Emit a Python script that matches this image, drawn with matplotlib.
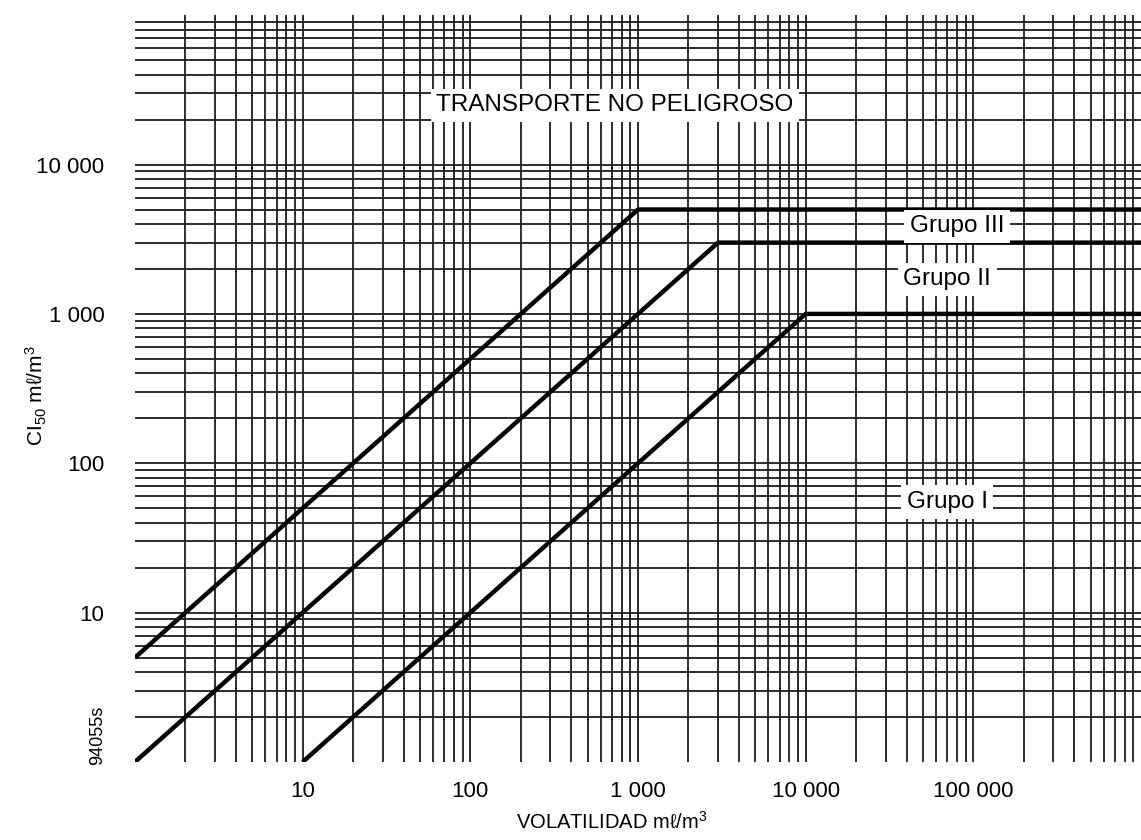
import matplotlib
matplotlib.use("Agg")
import matplotlib.pyplot as plt
import numpy as np

plt.rcParams['font.family'] = ['Liberation Sans', 'DejaVu Sans']
plt.rcParams['mathtext.default'] = 'regular'

# limit lines, volatility (x) vs CL50 (y)
grupo_iii_x = [1, 1000, 1000000]
grupo_iii_y = [5, 5000, 5000]
grupo_ii_x = [1, 3000, 1000000]
grupo_ii_y = [1, 3000, 3000]
grupo_i_x = [10, 10000, 1000000]
grupo_i_y = [1, 1000, 1000]

x_ticks = [10, 100, 1000, 10000, 100000]
x_tick_labels = ["10", "100", "1 000", "10 000", "100 000"]
y_ticks = [10, 100, 1000, 10000]
y_tick_labels = ["10", "100", "1 000", "10 000"]

fig = plt.figure(figsize=(11.41, 8.4), dpi=100)
ax = fig.add_axes([0.1183, 0.0929, 0.8817, 0.889])
ax.set_xscale('log')
ax.set_yscale('log')
ax.set_xlim(1, 1e6)
ax.set_ylim(1, 1e5)

# log paper grid
minor_x = [m * 10**d for d in range(0, 6) for m in range(2, 10)]
minor_y = [m * 10**d for d in range(0, 5) for m in range(2, 10)]
ax.set_xticks(x_ticks)
ax.set_xticklabels(x_tick_labels)
ax.set_xticks(minor_x, minor=True)
ax.set_yticks(y_ticks)
ax.set_yticklabels(y_tick_labels)
ax.set_yticks(minor_y, minor=True)
ax.xaxis.set_minor_formatter(matplotlib.ticker.NullFormatter())
ax.yaxis.set_minor_formatter(matplotlib.ticker.NullFormatter())
ax.grid(True, which='both', color='#1e1e1e', lw=1.3)
ax.set_axisbelow(True)
ax.tick_params(which='both', length=0, labelsize=16)
ax.tick_params(axis='y', pad=22)
ax.tick_params(axis='x', pad=14)
for s in ax.spines.values():
    s.set_visible(False)

ax.plot(grupo_iii_x, grupo_iii_y, color='black', lw=3.2, solid_capstyle='butt')
ax.plot(grupo_ii_x, grupo_ii_y, color='black', lw=3.2, solid_capstyle='butt')
ax.plot(grupo_i_x, grupo_i_y, color='black', lw=3.2, solid_capstyle='butt')

box = dict(facecolor='white', edgecolor='none', pad=4)
ax.text(730, 25000, "TRANSPORTE NO PELIGROSO", fontsize=17.5, ha='center', va='center', bbox=box)
ax.text(80000, 3870, "Grupo III", fontsize=17.5, ha='center', va='center', bbox=box)
ax.text(70000, 1700, "Grupo II", fontsize=17.5, ha='center', va='center', bbox=box)
ax.text(70000, 55, "Grupo I", fontsize=17.5, ha='center', va='center', bbox=box)

ax.set_xlabel("VOLATILIDAD mℓ/m$^3$", fontsize=14.5)
ax.xaxis.set_label_coords(0.474, -0.066)
ax.set_ylabel("CI$_{50}$ mℓ/m$^3$", fontsize=15)
ax.yaxis.set_label_coords(-0.085, 0.49)

fig.text(98 / 1141, 1 - 735 / 840, "94055s", rotation=90, fontsize=13, ha='center', va='center')

fig.savefig("out.png", dpi=100, facecolor='white')
